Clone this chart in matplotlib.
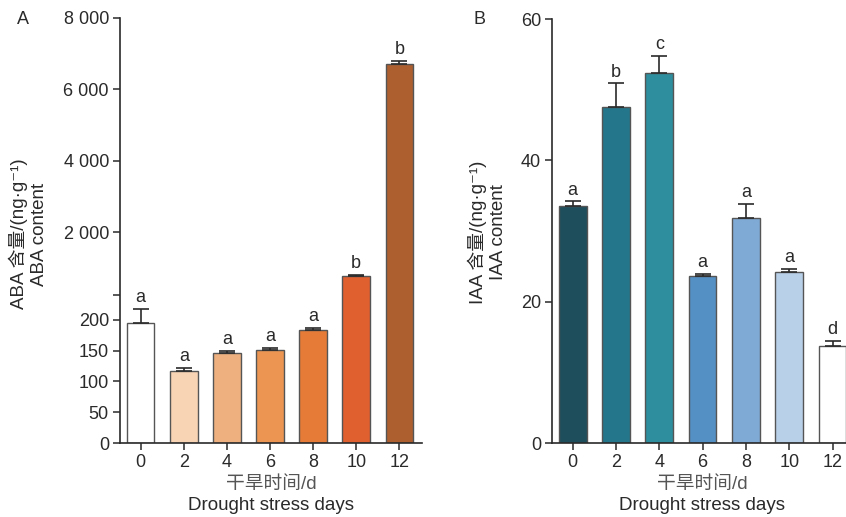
import numpy as np
import matplotlib
matplotlib.use("Agg")
import matplotlib.pyplot as plt

plt.rcParams['font.family'] = ['Liberation Sans', 'Noto Sans CJK SC', 'DejaVu Sans']
plt.rcParams['font.size'] = 13

days = ['0', '2', '4', '6', '8', '10', '12']

aba = [195, 117, 146, 151, 183, 790, 6720]
aba_err = [23, 5, 4, 4, 4, 20, 80]
aba_letters = ['a', 'a', 'a', 'a', 'a', 'b', 'b']
aba_colors = ['#FFFFFF', '#F8D3B4', '#EFB07F', '#EC9552', '#E57B36', '#E06030', '#AD5F30']

iaa = [33.5, 47.6, 52.3, 23.6, 31.8, 24.2, 13.7]
iaa_err = [0.7, 3.3, 2.5, 0.3, 2.0, 0.4, 0.7]
iaa_letters = ['a', 'b', 'c', 'a', 'a', 'a', 'd']
iaa_colors = ['#1E4D5C', '#24768A', '#2E8E9E', '#5490C4', '#7FAAD6', '#B8D0E8', '#FFFFFF']

aba_ticks = [0, 50, 100, 150, 200, 240, 2000, 4000, 6000, 8000]
aba_ticklabels = ['0', '50', '100', '150', '200', '', '2 000', '4 000', '6 000', '8 000']

# piecewise axis: 0-240 stretched, above that compressed
BRK = 240
LO = 0.616
HI = 0.03572


def fwd(v):
    v = np.asarray(v, dtype=float)
    return np.where(v <= BRK, v * LO, BRK * LO + (v - BRK) * HI)


def inv(p):
    p = np.asarray(p, dtype=float)
    return np.where(p <= BRK * LO, p / LO, BRK + (p - BRK * LO) / HI)


W, H = 846, 517
fig = plt.figure(figsize=(W / 100, H / 100), dpi=100)

ink = '#2a2a2a'


def style(ax):
    for s in ['top', 'right']:
        ax.spines[s].set_visible(False)
    for s in ['left', 'bottom']:
        ax.spines[s].set_color(ink)
        ax.spines[s].set_linewidth(1.2)
    ax.tick_params(direction='out', length=5, width=1.1, color=ink, labelcolor=ink, pad=3)


def draw(ax, vals, errs, letters, colors, gap):
    x = np.arange(len(vals))
    ax.bar(x, vals, width=0.64, color=colors, edgecolor='#555555', linewidth=1.0, zorder=2)
    ax.errorbar(x, vals, yerr=[np.zeros(len(errs)), errs], fmt='none', ecolor=ink,
                elinewidth=1.2, capsize=6, capthick=1.2, zorder=3)
    for xi, v, e, t in zip(x, vals, errs, letters):
        ax.annotate(t, (xi, v + e), xytext=(0, gap), textcoords='offset points',
                    ha='center', va='bottom', color=ink, fontsize=13)
    ax.set_xticks(x)
    ax.set_xticklabels(days)


# Panel A
ax1 = fig.add_axes([120 / W, 1 - 443 / H, (422 - 120) / W, (443 - 18) / H])
ax1.set_yscale('function', functions=(fwd, inv))
draw(ax1, aba, aba_err, aba_letters, aba_colors, 2)
ax1.set_xlim((120 - 140.7) / 43.1, (422 - 140.7) / 43.1)
ax1.set_ylim(0, 8000)
ax1.set_yticks(aba_ticks)
ax1.set_yticklabels(aba_ticklabels)
ax1.yaxis.set_minor_locator(matplotlib.ticker.NullLocator())
style(ax1)

# Panel B
ax2 = fig.add_axes([552 / W, 1 - 443 / H, (846 - 552) / W, (443 - 19) / H])
draw(ax2, iaa, iaa_err, iaa_letters, iaa_colors, 2)
ax2.set_xlim((552 - 572.7) / 43.3, (846 - 572.7) / 43.3)
ax2.set_ylim(0, 60)
ax2.set_yticks([0, 20, 40, 60])
style(ax2)

# axis titles
fs = 13.5
fig.text(18 / W, 1 - 234 / H, 'ABA 含量/(ng·g⁻¹)', rotation=90, ha='center', va='center', color=ink, fontsize=fs)
fig.text(40 / W, 1 - 234 / H, 'ABA content', rotation=90, ha='center', va='center', color=ink, fontsize=fs)
fig.text(477 / W, 1 - 232 / H, 'IAA 含量/(ng·g⁻¹)', rotation=90, ha='center', va='center', color=ink, fontsize=fs)
fig.text(498 / W, 1 - 232 / H, 'IAA content', rotation=90, ha='center', va='center', color=ink, fontsize=fs)

for cx in [271, 702]:
    fig.text(cx / W, 1 - 484 / H, '干旱时间/d', ha='center', va='center', color='#555555', fontsize=fs)
    fig.text(cx / W, 1 - 506 / H, 'Drought stress days', ha='center', va='center', color=ink, fontsize=fs)

fig.text(23 / W, 1 - 19 / H, 'A', ha='center', va='center', color=ink, fontsize=13)
fig.text(479 / W, 1 - 19 / H, 'B', ha='center', va='center', color=ink, fontsize=13)

fig.savefig('out.png', dpi=100)
